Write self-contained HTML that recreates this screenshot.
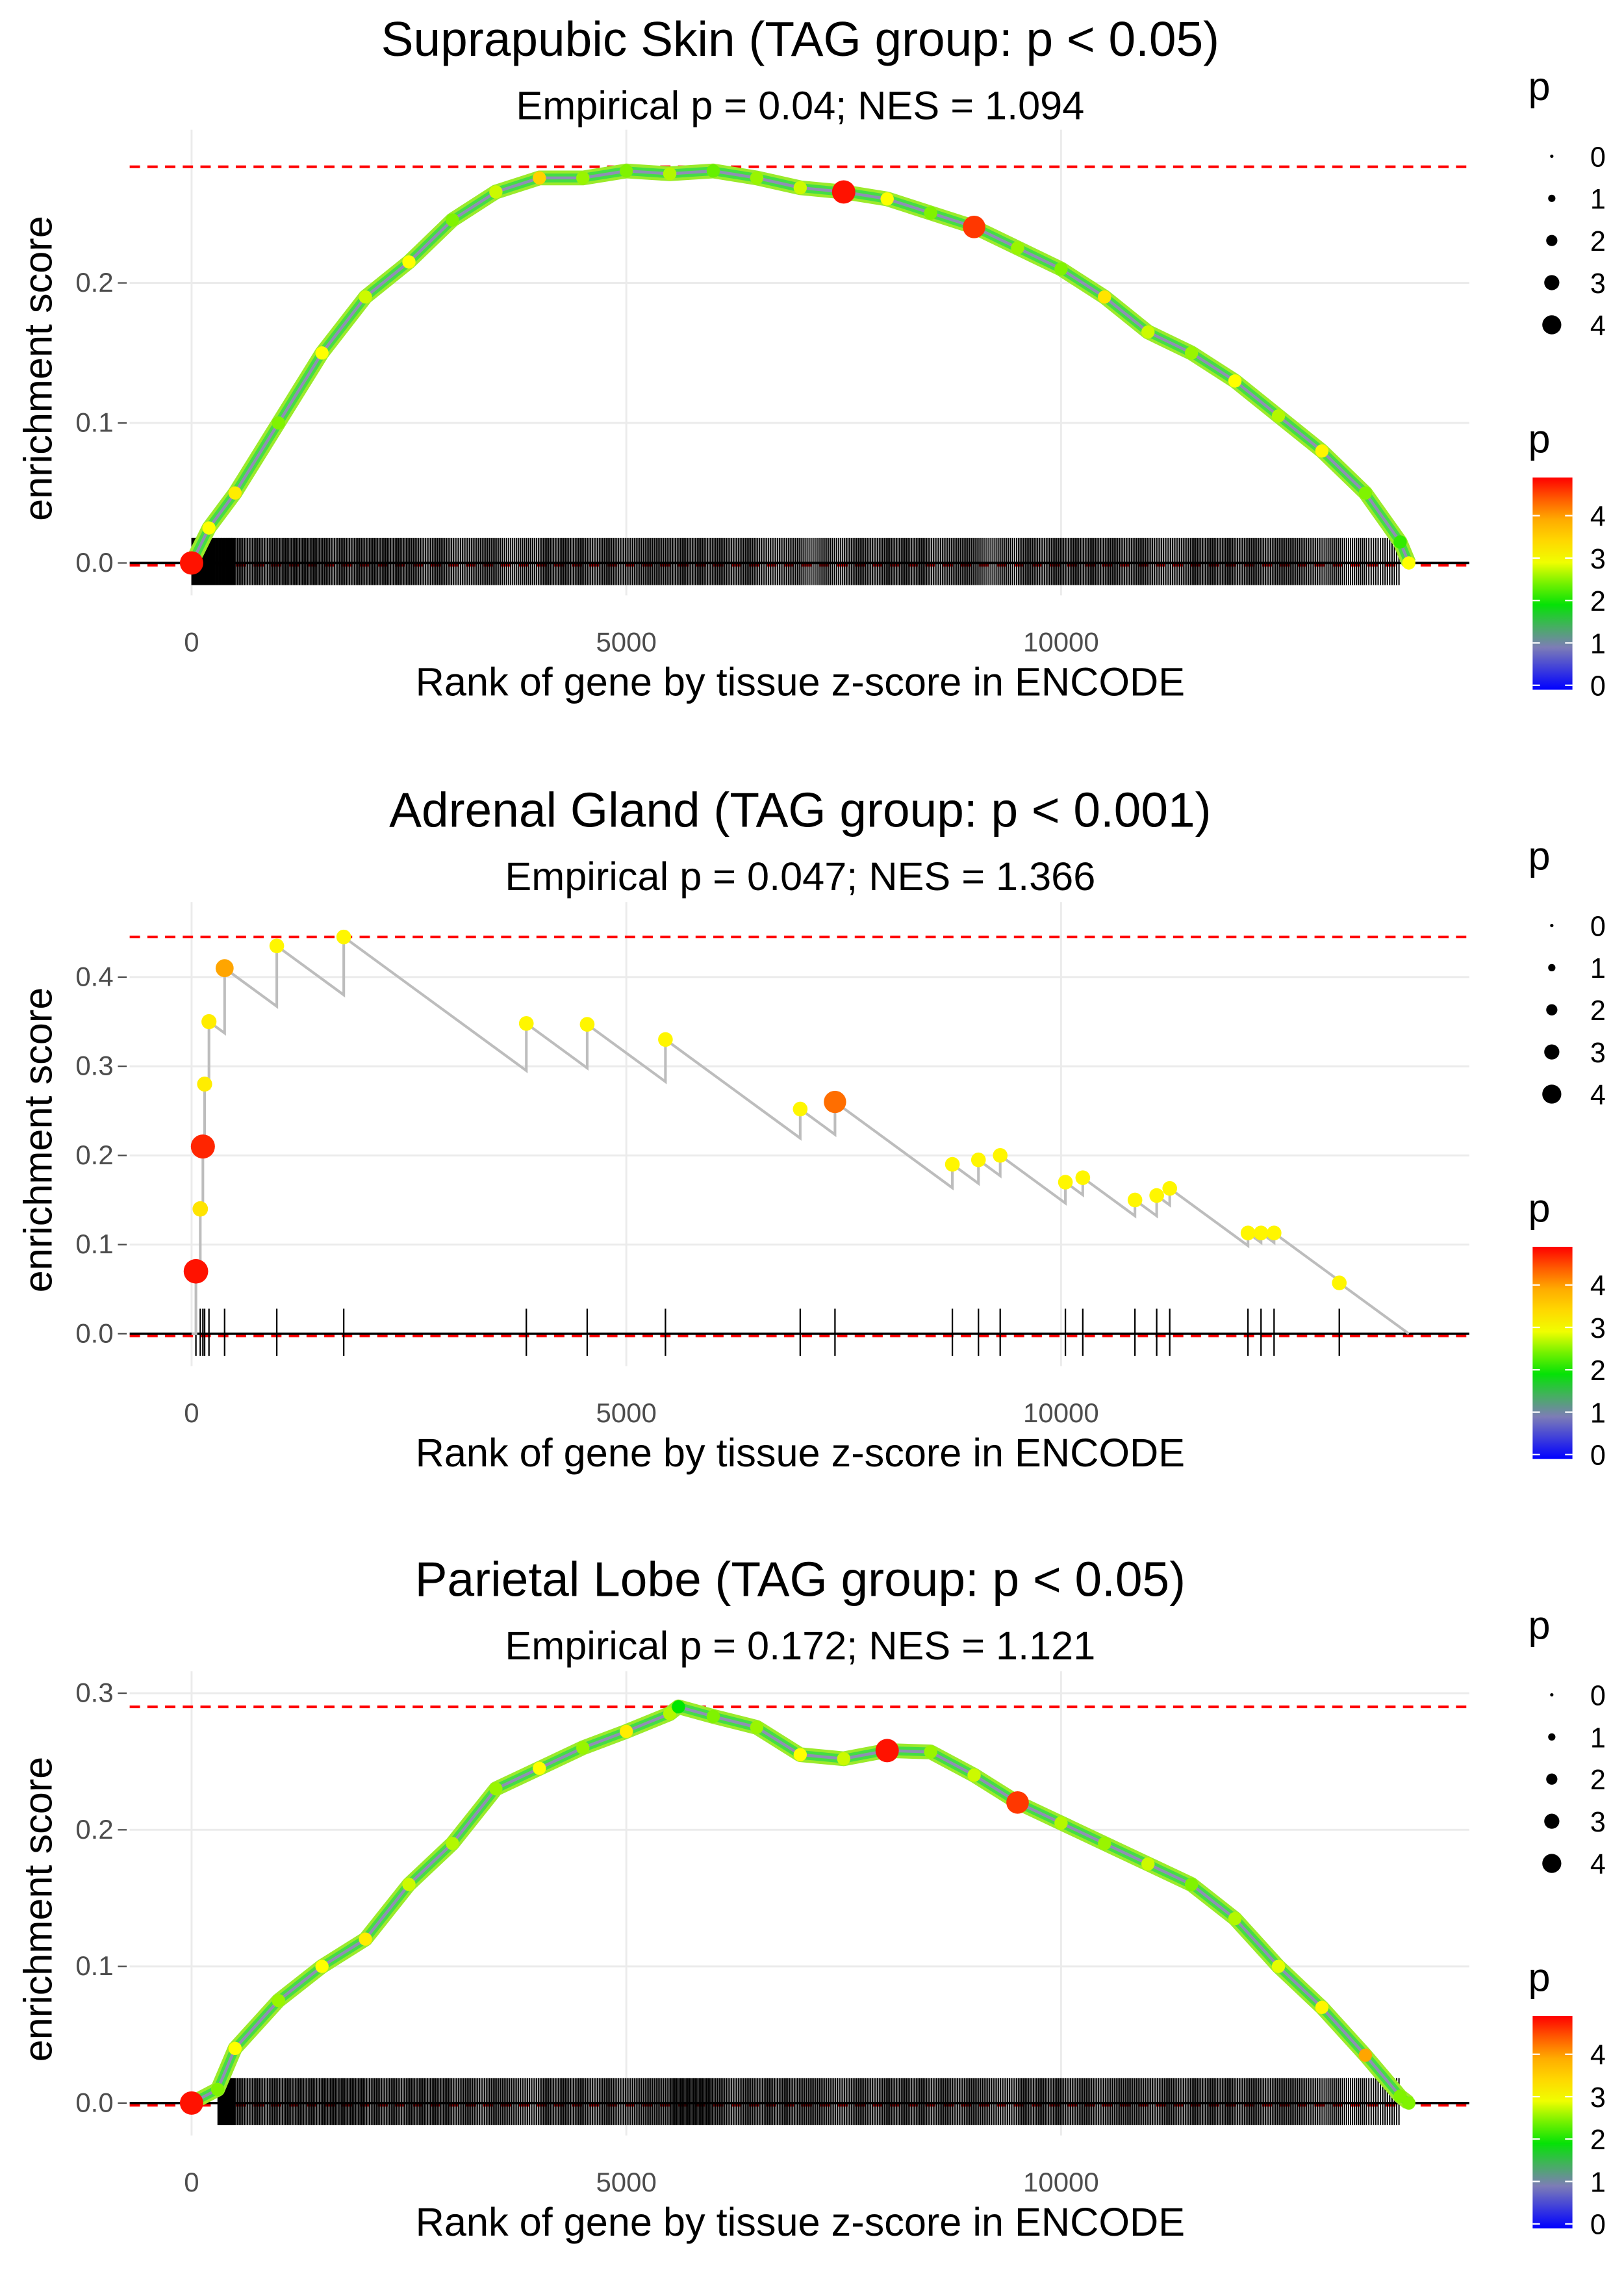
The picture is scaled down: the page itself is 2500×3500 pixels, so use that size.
<!DOCTYPE html>
<html><head><meta charset="utf-8"><style>html,body{margin:0;padding:0;background:#fff}svg{display:block}</style></head>
<body>
<svg id="chart" xmlns="http://www.w3.org/2000/svg" width="2500" height="3500" viewBox="0 0 1102 1543" preserveAspectRatio="none" font-family="Liberation Sans, sans-serif"></svg>
<script>
// ---------- data ----------
const p1Ranks = [0,200,500,1000,1500,2000,2500,3000,3500,4000,4500,5000,5500,6000,6500,7000,7500,8000,8500,9000,9500,10000,10500,11000,11500,12000,12500,13000,13500,13900,14000];
const p1ES    = [0,0.025,0.05,0.1,0.15,0.19,0.215,0.245,0.265,0.275,0.275,0.28,0.278,0.28,0.275,0.268,0.265,0.26,0.25,0.24,0.225,0.21,0.19,0.165,0.15,0.13,0.105,0.08,0.05,0.015,0];
const p1P     = [4.8,3,3.2,2.5,3,2.8,3,2.5,2.8,3.5,2.6,2.5,2.7,2.4,2.6,2.8,4.8,3,2.5,4.6,2.6,2.5,3.3,2.8,2.6,3,2.7,3.1,2.5,2.2,3];
const p1Hits  = [0,20,24,26,28,26,27,25,24,22,26,25,24,26,25,24,22,25,26,24,22,25,26,25,24,26,25,24,22,15,0];
const p1Max = 0.283;

const p2HitRanks = [50,100,130,150,200,380,980,1750,3850,4550,5450,7000,7400,8750,9050,9300,10050,10250,10850,11100,11250,12150,12300,12450,13200];
const p2HitES    = [0.07,0.14,0.21,0.28,0.35,0.41,0.435,0.445,0.348,0.347,0.33,0.252,0.26,0.19,0.195,0.2,0.17,0.175,0.15,0.155,0.163,0.113,0.113,0.113,0.057];
const p2HitP     = [4.8,3.3,4.7,3.2,3.2,4,3.1,3.1,3.1,3.1,3.1,3.1,4.3,3.1,3.1,3.1,3.1,3.1,3.1,3.1,3.1,3.1,3.1,3.1,3.1];
const p2EndRank = 14000;
const p2Max = 0.445;

const p3Ranks = [0,300,500,1000,1500,2000,2500,3000,3500,4000,4500,5000,5500,5600,6000,6500,7000,7500,8000,8500,9000,9500,10000,10500,11000,11500,12000,12500,13000,13500,13900,14000];
const p3ES    = [0,0.01,0.04,0.075,0.1,0.12,0.16,0.19,0.23,0.245,0.26,0.272,0.285,0.29,0.283,0.275,0.255,0.252,0.258,0.257,0.24,0.22,0.205,0.19,0.175,0.16,0.135,0.1,0.07,0.035,0.005,0];
const p3P     = [4.8,2.5,3,2.6,3,3.2,2.8,2.7,2.6,3,2.6,3.2,2.7,2,2.5,2.6,3,2.8,4.8,2.6,2.8,4.6,2.7,2.6,2.8,2.5,2.7,2.9,3.1,4,2.5,2.5];
const p3Hits  = [0,0,20,26,27,28,26,27,25,24,26,25,24,6,24,25,26,24,25,26,25,24,26,25,24,25,26,25,24,22,15,0];
const p3Max = 0.29;

const xTicks = [0,5000,10000];
const p1YTicks = [0,0.1,0.2];
const p2YTicks = [0,0.1,0.2,0.3,0.4];
const p3YTicks = [0,0.1,0.2,0.3];
const sizeLegendVals = [0,1,2,3,4];
const colorLegendVals = [0,1,2,3,4];

// ---------- helpers ----------
const svg = document.getElementById('chart');
const NS = 'http://www.w3.org/2000/svg';
function mk(tag, attrs, parent){const e=document.createElementNS(NS,tag);for(const k in attrs)e.setAttribute(k,attrs[k]);(parent||svg).appendChild(e);return e;}
function txt(s, attrs, parent){const e=mk('text',attrs,parent);e.textContent=s;return e;}
function pColor(p){
  const stops=[[0,[0,0,255]],[1,[128,128,180]],[2,[0,230,0]],[3,[255,255,0]],[4,[255,165,0]],[4.9,[255,0,0]]];
  p=Math.max(0,Math.min(4.9,p));
  for(let i=0;i<stops.length-1;i++){const a=stops[i],b=stops[i+1];if(p<=b[0]){const t=(p-a[0])/(b[0]-a[0]);const c=a[1].map((v,j)=>Math.round(v+(b[1][j]-v)*t));return `rgb(${c[0]},${c[1]},${c[2]})`;}}
  return 'rgb(255,0,0)';
}
function pRadius(p){return 1.2+p*1.4;}
const X0=130, XPER=0.059;
function xs(r){return X0+r*XPER;}
const PL=88, PR=997;
const FT=33, FS=27, FA=27, FK=18.5, FL=19;

function panel(cfg){
  const g=mk('g',{});
  
  
  const ys=v=>cfg.y0-v*cfg.ppu;
  cfg.yTicks.forEach(v=>{
    const l=mk('line',{x1:PL,x2:PR,y1:ys(v),y2:ys(v),stroke:'#ebebeb','stroke-width':1.3},g);
    
    const t=txt(v.toFixed(1),{x:77,y:ys(v)+6,'text-anchor':'end','font-size':FK,fill:'#4d4d4d'},g);
    
    mk('line',{x1:80,x2:86,y1:ys(v),y2:ys(v),stroke:'#4d4d4d','stroke-width':1},g);
  });
  xTicks.forEach(v=>{
    const l=mk('line',{x1:xs(v),x2:xs(v),y1:cfg.top,y2:cfg.y0+22,stroke:'#ebebeb','stroke-width':1.3},g);
    
    const t=txt(String(v),{x:xs(v),y:cfg.y0+60,'text-anchor':'middle','font-size':FK,fill:'#4d4d4d'},g);
    
  });
  const d1=mk('line',{x1:PL,x2:PR,y1:ys(cfg.max),y2:ys(cfg.max),stroke:'#f00','stroke-width':1.8,'stroke-dasharray':'7,5'},g);
  
  const d0=mk('line',{x1:PL,x2:PR,y1:cfg.y0+1.5,y2:cfg.y0+1.5,stroke:'#f00','stroke-width':1.8,'stroke-dasharray':'7,5'},g);
  
  const rug=mk('g',{},g);
  cfg.drawRug(rug,ys);
  const z=mk('line',{x1:PL,x2:PR,y1:cfg.y0,y2:cfg.y0,stroke:'#000','stroke-width':1.6},g);
  
  const cg=mk('g',{},g);
  cfg.drawCurve(cg,ys);
  const t1=txt(cfg.title,{x:543,y:cfg.titleY,'text-anchor':'middle','font-size':FT,fill:'#000'},g);
  
  const t2=txt(cfg.sub,{x:543,y:cfg.titleY+43,'text-anchor':'middle','font-size':FS,fill:'#000'},g);
  
  const xt=txt('Rank of gene by tissue z-score in ENCODE',{x:543,y:cfg.y0+90,'text-anchor':'middle','font-size':FA,fill:'#000'},g);
  
  const yc=(cfg.top+cfg.y0)/2+15;
  const yt=txt('enrichment score',{x:0,y:0,'text-anchor':'middle','font-size':FA,fill:'#000',transform:`translate(35,${yc}) rotate(-90)`},g);
  
  const L=cfg.legY;
  const sl=mk('g',{},g);
  txt('p',{x:1037,y:L,'font-size':FA},sl);
  sizeLegendVals.forEach((v,i)=>{
    const c=mk('circle',{cx:1053,cy:L+38+i*28.6,r:pRadius(v)*0.95,fill:'#000'},sl);
    
    txt(String(v),{x:1079,y:L+45+i*28.6,'font-size':FL,fill:'#000'},sl);
  });
  const cl=mk('g',{},g);
  txt('p',{x:1037,y:L+239,'font-size':FA},cl);
  const gid='grad'+cfg.name;
  const defs=mk('defs',{},cl);const lg=mk('linearGradient',{id:gid,x1:0,y1:1,x2:0,y2:0},defs);
  for(let i=0;i<=10;i++){const p=i*0.49;mk('stop',{offset:(i/10),'stop-color':pColor(p)},lg);}
  const barTop=L+256,barBot=L+400;
  mk('rect',{x:1040,y:barTop,width:27,height:barBot-barTop,fill:`url(#${gid})`},cl);
  colorLegendVals.forEach(v=>{
    const yy=barBot-3-v/4.9*(barBot-barTop-3);
    mk('line',{x1:1040,x2:1045,y1:yy,y2:yy,stroke:'#fff','stroke-width':1},cl);
    mk('line',{x1:1062,x2:1067,y1:yy,y2:yy,stroke:'#fff','stroke-width':1},cl);
    txt(String(v),{x:1079,y:yy+7,'font-size':FL},cl);
  });
}

function denseCurve(ranks,es,pv,hits){
  return {
    drawRug:(g,ys)=>{
      for(let i=1;i<ranks.length;i++){
        const n=hits[i],a=ranks[i-1],b=ranks[i];
        for(let k=0;k<n;k++){
          const r=a+(b-a)*(k+0.5)/n;
          const l=mk('line',{x1:xs(r),x2:xs(r),y1:ys(0)-17,y2:ys(0)+15,stroke:'#000','stroke-width':0.9},g);
          
        }
      }
    },
    drawCurve:(g,ys)=>{
      const pts=ranks.map((r,i)=>xs(r)+','+ys(es[i])).join(' ');
      mk('polyline',{points:pts,fill:'none',stroke:'#9bea2a','stroke-width':10,'stroke-linejoin':'round'},g);
      mk('polyline',{points:pts,fill:'none',stroke:'#44dd44','stroke-width':6,'stroke-linejoin':'round'},g);
      mk('polyline',{points:pts,fill:'none',stroke:'#8f8fb5','stroke-width':2,'stroke-linejoin':'round'},g);
      ranks.forEach((r,i)=>{
        const c=mk('circle',{cx:xs(r),cy:ys(es[i]),r:pv[i]>4?pRadius(pv[i]):4.5,fill:pColor(pv[i])},g);
        
      });
    }
  };
}

const SLOPE=7.14e-5;
function stepCurve(){
  return {
    drawRug:(g,ys)=>{
      p2HitRanks.forEach(r=>{
        const l=mk('line',{x1:xs(r),x2:xs(r),y1:ys(0)-17,y2:ys(0)+15,stroke:'#000','stroke-width':1},g);
        
      });
    },
    drawCurve:(g,ys)=>{
      let pts=[[xs(0),ys(0)]];
      p2HitRanks.forEach((r,i)=>{
        if(i>0){const pr=p2HitRanks[i-1];pts.push([xs(r),ys(p2HitES[i-1]-SLOPE*(r-pr))]);}
        else pts.push([xs(r),ys(0)]);
        pts.push([xs(r),ys(p2HitES[i])]);
      });
      pts.push([xs(p2EndRank),ys(0)]);
      mk('polyline',{points:pts.map(p=>p.join(',')).join(' '),fill:'none',stroke:'#bdbdbd','stroke-width':1.8},g);
      p2HitRanks.forEach((r,i)=>{
        const c=mk('circle',{cx:xs(r),cy:ys(p2HitES[i]),r:pRadius(p2HitP[i])*(p2HitP[i]>4?1.05:0.9),fill:pColor(p2HitP[i])},g);
        
      });
    }
  };
}

panel(Object.assign({name:'panel-suprapubic-skin',title:'Suprapubic Skin (TAG group: p < 0.05)',sub:'Empirical p = 0.04; NES = 1.094',titleY:38,top:88,y0:382,ppu:950,max:p1Max,yTicks:p1YTicks,legY:68},denseCurve(p1Ranks,p1ES,p1P,p1Hits)));
panel(Object.assign({name:'panel-adrenal-gland',title:'Adrenal Gland (TAG group: p < 0.001)',sub:'Empirical p = 0.047; NES = 1.366',titleY:561,top:612,y0:905,ppu:605,max:p2Max,yTicks:p2YTicks,legY:590},stepCurve()));
panel(Object.assign({name:'panel-parietal-lobe',title:'Parietal Lobe (TAG group: p < 0.05)',sub:'Empirical p = 0.172; NES = 1.121',titleY:1083,top:1134,y0:1427,ppu:927,max:p3Max,yTicks:p3YTicks,legY:1112},denseCurve(p3Ranks,p3ES,p3P,p3Hits)));
</script>
</body></html>
